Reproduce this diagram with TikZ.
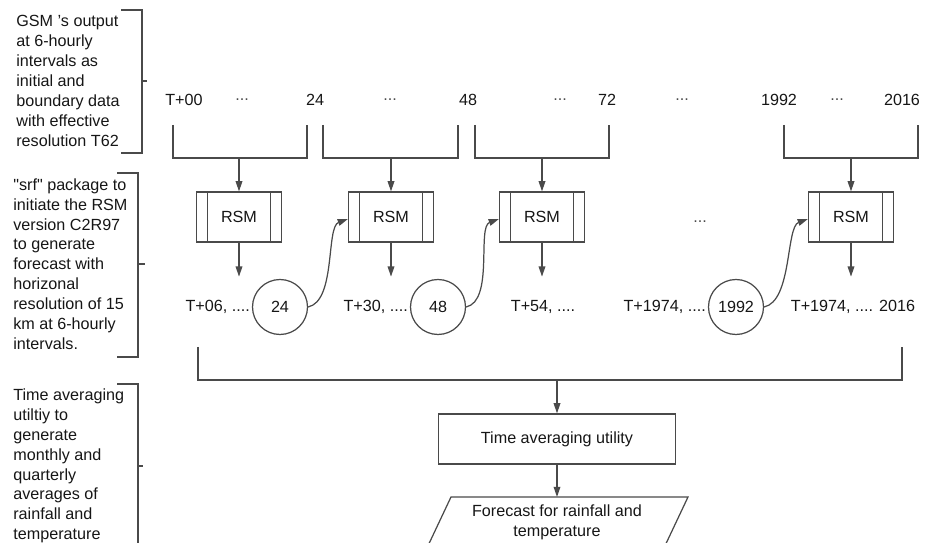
\documentclass[tikz,border=0pt]{standalone}
\usepackage{fontspec}
\setmainfont{Liberation Sans}
\usetikzlibrary{positioning,arrows.meta}
\definecolor{linegray}{HTML}{4A4A4A}
\definecolor{txtgray}{HTML}{161616}
\tikzset{
  ln/.style={draw=linegray, line width=0.7pt},
  arr/.style={ln, -{Triangle[length=5.8pt,width=3.8pt]}},
  rsmbox/.style={ln, minimum width=1.7cm, minimum height=1cm,
    path picture={\draw[linegray, line width=0.7pt]
      ([xshift=0.22cm]path picture bounding box.north west) -- ([xshift=0.22cm]path picture bounding box.south west)
      ([xshift=-0.22cm]path picture bounding box.north east) -- ([xshift=-0.22cm]path picture bounding box.south east);}},
  hrcirc/.style={ln, circle, minimum size=1.1cm, inner sep=0pt},
  dots/.style={text=linegray},
  note/.style={align=left, anchor=west, inner sep=0pt}
}
\begin{document}
\begin{tikzpicture}[x=0.02cm, y=0.02cm,
  every node/.style={font=\fontsize{9.2pt}{11.3pt}\selectfont, text=txtgray}]
\useasboundingbox (0,0) rectangle (927,-543);

% notes on the left, with their brackets
\node[note] (gsmtxt) at (16,-81) {GSM 's output\\at 6-hourly\\intervals as\\initial and\\boundary data\\with effective\\resolution T62};
\node[note] (srftxt) at (13,-264) {\textquotedbl srf\textquotedbl{} package to\\initiate the RSM\\version C2R97\\to generate\\forecast with\\horizonal\\resolution of 15\\km at 6-hourly\\intervals.};
\node[note] (avgtxt) at (13,-466) {Time averaging\\utiltiy to\\generate\\monthly and\\quarterly\\averages of\\rainfall and\\temperature};
\draw[ln] (121,-10) -- (142,-10) -- (142,-153) -- (121,-153) (142,-81) -- (147,-81);
\draw[ln] (117,-173) -- (138,-173) -- (138,-357) -- (117,-357) (138,-264) -- (145,-264);
\draw[ln] (117,-384) -- (138,-384) -- (138,-550) (138,-466) -- (143,-466);

% GSM output times
\node (t00) at (184,-100) {T+00};
\node[dots] at (242,-100) {...};
\node (t24) at (315,-100) {24};
\node[dots] at (390,-100) {...};
\node (t48) at (468,-100) {48};
\node[dots] at (560,-100) {...};
\node (t72) at (607,-100) {72};
\node[dots] at (682,-100) {...};
\node (t1992) at (779,-100) {1992};
\node[dots] at (837,-100) {...};
\node (t2016) at (902,-100) {2016};

% RSM runs
\node[rsmbox] (rsm1) at (239,-217) {RSM};
\node[rsmbox] (rsm2) at (391,-217) {RSM};
\node[rsmbox] (rsm3) at (542,-217) {RSM};
\node[rsmbox] (rsm4) at (851,-217) {RSM};
\node[dots] (mid) at (700,-222) {...};

\draw[ln] (173,-125) |- (307,-158) -- (307,-125);
\draw[ln] (323,-125) |- (458,-158) -- (458,-125);
\draw[ln] (475,-125) |- (609,-158) -- (609,-125);
\draw[ln] (784,-125) |- (918,-158) -- (918,-125);
\coordinate (b1) at (239,-158);
\coordinate (b2) at (391,-158);
\coordinate (b3) at (542,-158);
\coordinate (b4) at (851,-158);
\draw[arr] (b1) -- (rsm1);
\draw[arr] (b2) -- (rsm2);
\draw[arr] (b3) -- (rsm3);
\draw[arr] (b4) -- (rsm4);
\draw[arr] (rsm1.south) -- ++(0,-34) coordinate (o1);
\draw[arr] (rsm2.south) -- ++(0,-34) coordinate (o2);
\draw[arr] (rsm3.south) -- ++(0,-34) coordinate (o3);
\draw[arr] (rsm4.south) -- ++(0,-34) coordinate (o4);

% RSM output with restart hours
\node[hrcirc] (c24) at (280,-307) {24};
\node[hrcirc] (c48) at (438,-307) {48};
\node[hrcirc] (c1992) at (736,-307) {1992};
\node[left=1pt of c24, inner sep=0pt] (r1) {T+06, ....};
\node[left=1pt of c48, inner sep=0pt] (r2) {T+30, ....};
\node[inner sep=0pt] (r3) at (543,-307) {T+54, ....};
\node[left=1pt of c1992, inner sep=0pt] (r4) {T+1974, ....};
\node[inner sep=0pt] (r5) at (853,-307) {T+1974, .... 2016};
\draw[arr] (c24.east) .. controls ++(28,6) and ++(-22,-8) .. ([yshift=-0.04cm]rsm2.west);
\draw[arr] (c48.east) .. controls ++(28,6) and ++(-22,-8) .. ([yshift=-0.04cm]rsm3.west);
\draw[arr] (c1992.east) .. controls ++(28,6) and ++(-22,-8) .. ([yshift=-0.04cm]rsm4.west);

% averaging and final forecast
\draw[ln] (198,-347) |- (902,-380) -- (902,-347);
\coordinate (jn) at (557,-380);
\node[ln, minimum width=4.74cm, minimum height=1cm] (avg) at (557,-439) {Time averaging utility};
\draw[ln] (451,-497) -- (688,-497) -- (663,-550) -- (426,-550) -- cycle;
\node[align=center, inner sep=0pt] (fcst) at (557,-522) {Forecast for rainfall and\\temperature};
\coordinate (ftop) at (557,-497);
\draw[arr] (jn) -- (avg);
\draw[arr] (avg) -- (ftop);
\end{tikzpicture}
\end{document}
